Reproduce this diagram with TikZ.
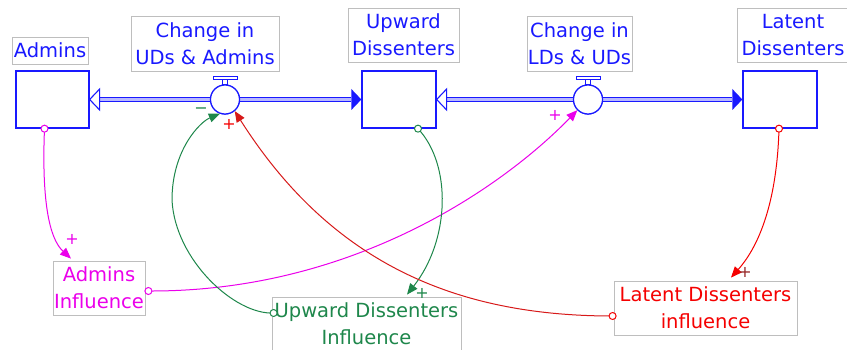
\documentclass[tikz,border=0pt]{standalone}
\usepackage{fontspec}
\setmainfont{DejaVu Sans}
\usetikzlibrary{arrows.meta,calc}
\definecolor{vblue}{RGB}{25,25,255}
\definecolor{vpipe}{RGB}{185,185,255}
\definecolor{vmag}{RGB}{235,0,235}
\definecolor{vgreen}{RGB}{30,135,75}
\definecolor{vred}{RGB}{245,0,0}
\definecolor{vdred}{RGB}{215,25,25}
\definecolor{vbrown}{RGB}{150,40,40}
\definecolor{lblgray}{RGB}{190,190,190}
\begin{document}
\begin{tikzpicture}[x=1pt,y=-1pt,
  lbl/.style={draw=lblgray, line width=0.8pt, inner sep=0pt, align=center,
    font=\fontsize{19.5}{27}\selectfont, text=vblue},
  stock/.style={draw=vblue, line width=1.3pt, fill=white, inner sep=0pt,
    minimum width=73pt, minimum height=57pt},
  valvec/.style={circle, draw=vblue, line width=1.2pt, fill=white,
    minimum size=29pt, inner sep=0pt},
  pipe/.style={draw=vblue, double=vpipe, double distance=2.2pt, line width=1.3pt},
  link/.style={line width=1pt, -{Triangle[length=11pt,width=9pt]}},
  tail/.style={circle, draw, line width=1pt, fill=white, inner sep=0pt, minimum size=7pt},
  pol/.style={font=\fontsize{16}{16}\selectfont, inner sep=0pt}
]
\fill[white] (0,0) rectangle (847,350);
\useasboundingbox (0,0) rectangle (847,350);

% labels
\node[lbl, minimum width=76pt, minimum height=27pt] (admL) at (50,50.5) {Admins};
\node[lbl, minimum width=148pt, minimum height=55pt] (c1L) at (205,43.5) {Change in\\UDs \& Admins};
\node[lbl, minimum width=111pt, minimum height=54pt] (udL) at (403.5,35) {Upward\\Dissenters};
\node[lbl, minimum width=105pt, minimum height=55pt] (c2L) at (579.5,43.5) {Change in\\LDs \& UDs};
\node[lbl, minimum width=112pt, minimum height=54pt] (ldL) at (793,35) {Latent\\Dissenters};

% stocks
\node[stock] (adm) at (52.5,99.5) {};
\node[stock, minimum width=74pt] (ud) at (399,99.5) {};
\node[stock, minimum width=74pt] (ld) at (780,99.5) {};

% valves
\node[valvec] (v1) at (225,99.5) {};
\node[valvec] (v2) at (588,99.5) {};

% pipes
\draw[pipe] ([xshift=10pt]adm.east) -- (v1.west);
\draw[pipe] (v1.east) -- ([xshift=-10pt]ud.west);
\draw[pipe] ([xshift=10pt]ud.east) -- (v2.west);
\draw[pipe] (v2.east) -- ([xshift=-10pt]ld.west);

% arrowheads
\draw[vblue, line width=1.1pt, fill=white, line join=miter] (adm.east) -- ++(10,-10.5) -- ++(0,21) -- cycle;
\draw[vblue, line width=1.1pt, fill=white, line join=miter] (ud.east) -- ++(10,-10.5) -- ++(0,21) -- cycle;
\fill[vblue] (ud.west) -- ++(-10,-10.5) -- ++(0,21) -- cycle;
\fill[vblue] (ld.west) -- ++(-10,-10.5) -- ++(0,21) -- cycle;

% valve tops
\foreach \v in {v1,v2}{
  \draw[vblue, line width=1pt, fill=white] ([shift={(-12,-8)}]\v.north) rectangle ([shift={(12,-5)}]\v.north);
  \draw[vblue, line width=1pt, fill=white] ([shift={(-2.5,-5)}]\v.north) rectangle ([shift={(2.5,0)}]\v.north);
}
\node[valvec] at (v1) {};
\node[valvec] at (v2) {};

% influence labels
\node[lbl, text=vmag, minimum width=92pt, minimum height=54pt] (aI) at (99,288) {Admins\\Influence};
\node[lbl, text=vgreen, minimum width=189pt, minimum height=54pt] (uI) at (366.5,324) {Upward Dissenters\\Influence};
\node[lbl, text=vred, minimum width=183pt, minimum height=54pt] (lI) at (705.5,308) {Latent Dissenters\\influence};

% tail points
\coordinate (t1) at ([xshift=-8pt]adm.south);
\coordinate (t2) at ([shift={(3,3)}]aI.east);
\coordinate (t3) at ([xshift=19pt]ud.south);
\coordinate (t4) at ([shift={(2,-11)}]uI.west);
\coordinate (t5) at ([xshift=-1pt]ld.south);
\coordinate (t6) at ([shift={(-1,8)}]lI.west);
\coordinate (h1) at ([shift={(-28,-2)}]aI.north);
\coordinate (h3) at ([shift={(40.5,-2)}]uI.north);
\coordinate (h5) at ([shift={(25.5,-3)}]lI.north);

% connectors
\draw[vmag, link] (t1) .. controls (41,215) and (53,242) .. (h1);
\draw[vmag, link] (t2) .. controls (360,292) and (510,180) .. (v2.-135);
\draw[vgreen, link] (t3) .. controls (452,165) and (450,240) .. (h3);
\draw[vgreen, link] (t4) .. controls (235,315) and (175,260) .. (172,200) .. controls (172,150) and (200,122) .. (v1.-110);
\draw[vred, link] (t5) .. controls (777,200) and (760,245) .. (h5);
\draw[vdred, link] (t6) .. controls (460,316) and (333,266) .. (v1.-50);

% tail circles
\node[tail, draw=vmag] at (t1) {};
\node[tail, draw=vmag] at (t2) {};
\node[tail, draw=vgreen] at (t3) {};
\node[tail, draw=vgreen] at (t4) {};
\node[tail, draw=vred] at (t5) {};
\node[tail, draw=vred] at (t6) {};

% polarities
\node[pol, text=vmag] at (72,239) {+};
\node[pol, text=vmag] at (555,115) {+};
\node[pol, text=vgreen] at (201,111) {−};
\node[pol, text=vred] at (229,124) {+};
\node[pol, text=vgreen] at (422,293) {+};
\node[pol, text=vbrown] at (745,272) {+};
\end{tikzpicture}
\end{document}
